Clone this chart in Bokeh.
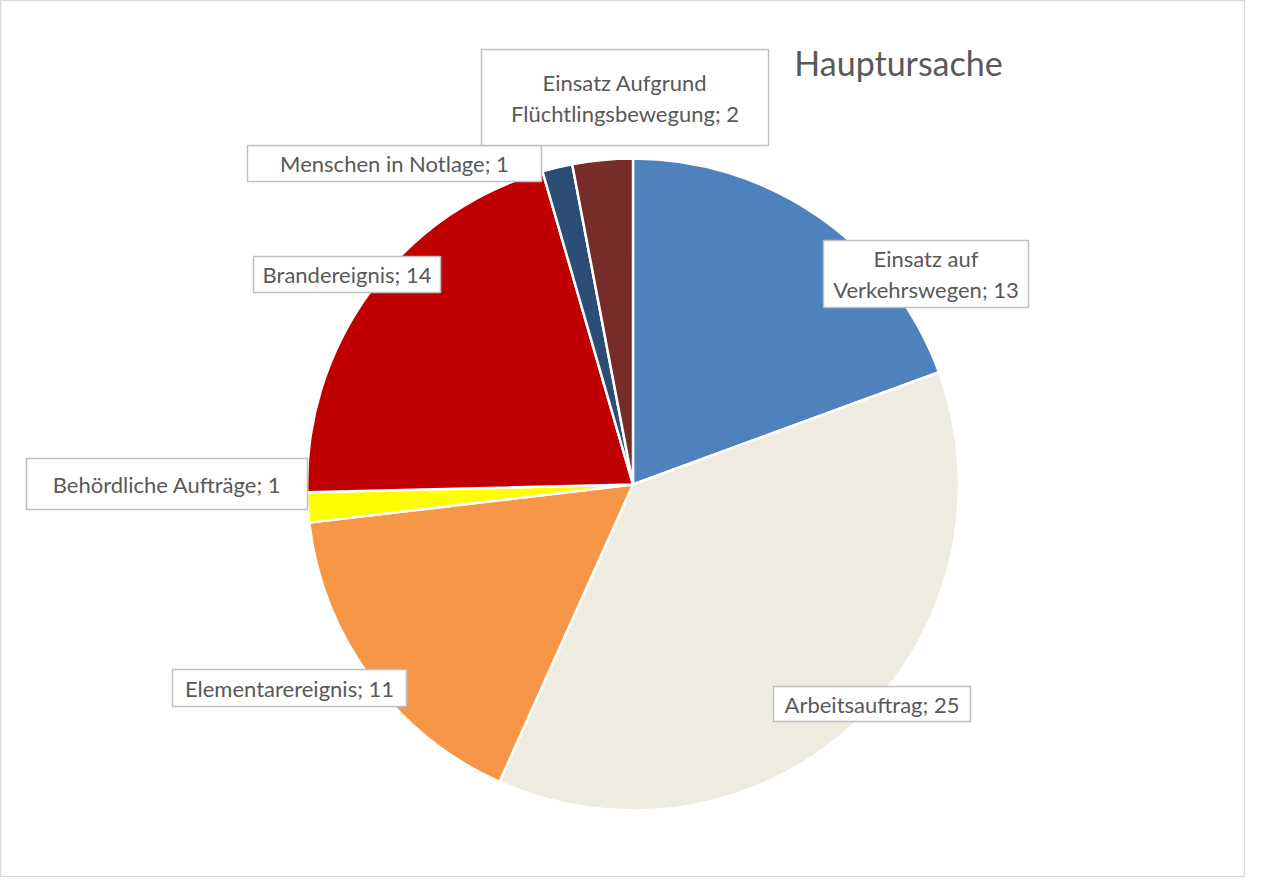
import math
from bokeh.plotting import figure
from bokeh.models import Range1d, ColumnDataSource
from bokeh.core.properties import value
from bokeh.embed import file_html
from bokeh.resources import INLINE

# ---- data ----
categories = ["Einsatz auf Verkehrswegen", "Arbeitsauftrag", "Elementarereignis",
              "Behördliche Aufträge", "Brandereignis", "Menschen in Notlage",
              "Einsatz Aufgrund Flüchtlingsbewegung"]
counts = [13, 25, 11, 1, 14, 1, 2]
colors = ["#4F81BD", "#EEECE1", "#F79646", "#FFFF00", "#C00000", "#2C4D75", "#772C2A"]
label_lines = [["Einsatz auf", "Verkehrswegen; 13"],
               ["Arbeitsauftrag; 25"],
               ["Elementarereignis; 11"],
               ["Behördliche Aufträge; 1"],
               ["Brandereignis; 14"],
               ["Menschen in Notlage; 1"],
               ["Einsatz Aufgrund", "Flüchtlingsbewegung; 2"]]
title = "Hauptursache"

# ---- layout (picture pixel coords) ----
W, H = 1245, 877
OFF = 0
def X(sx): return sx - OFF
def Y(sy): return H - (sy - OFF)

cx, cy, R = 632.5, 484, 326
# label boxes: left, top, right, bottom (picture px)
boxes = [(823, 240, 1028, 307),
         (773, 686, 970, 721),
         (172, 669, 406, 706),
         (26, 458, 307, 509),
         (253, 256, 440, 292),
         (247, 145, 541, 181),
         (481, 49, 768, 145)]
LINE_H = 31

p = figure(width=W, height=H, output_backend="svg", toolbar_location=None,
           x_range=Range1d(0, W), y_range=Range1d(0, H), min_border=0,
           outline_line_color="#D9D9D9", outline_line_width=1.5)
p.axis.visible = False
p.grid.visible = False
p.background_fill_color = "white"
p.border_fill_color = "white"

total = sum(counts)
starts, ends = [], []
acc = 0
for c in counts:
    starts.append(math.pi / 2 - 2 * math.pi * acc / total)
    acc += c
    ends.append(math.pi / 2 - 2 * math.pi * acc / total)

src = ColumnDataSource(dict(start=starts, end=ends, color=colors, cat=categories))
p.wedge(x=X(cx), y=Y(cy), radius=R, start_angle="start", end_angle="end",
        direction="clock", fill_color="color", line_color="white", line_width=2.5,
        source=src)

# label boxes
bx = [X((b[0] + b[2]) / 2) for b in boxes]
by = [Y((b[1] + b[3]) / 2) for b in boxes]
bw = [b[2] - b[0] for b in boxes]
bh = [b[3] - b[1] for b in boxes]
p.rect(x=bx, y=by, width=bw, height=bh, fill_color="white",
       line_color="#BFBFBF", line_width=1.5)

tx, ty, tt = [], [], []
for lines, b in zip(label_lines, boxes):
    mcy = (b[1] + b[3]) / 2
    n = len(lines)
    for i, s in enumerate(lines):
        tx.append(X((b[0] + b[2]) / 2))
        ty.append(Y(mcy + (i - (n - 1) / 2) * LINE_H))
        tt.append(s)
p.text(x=tx, y=ty, text=tt, text_align="center", text_baseline="middle",
       text_font=value("Lato"), text_font_size="22px", text_color="#595959")

p.text(x=[X(898)], y=[Y(62)], text=[title], text_align="center", text_baseline="middle",
       text_font=value("Lato"), text_font_size="34px", text_color="#595959")

open("out.html", "w").write(file_html(p, INLINE))
